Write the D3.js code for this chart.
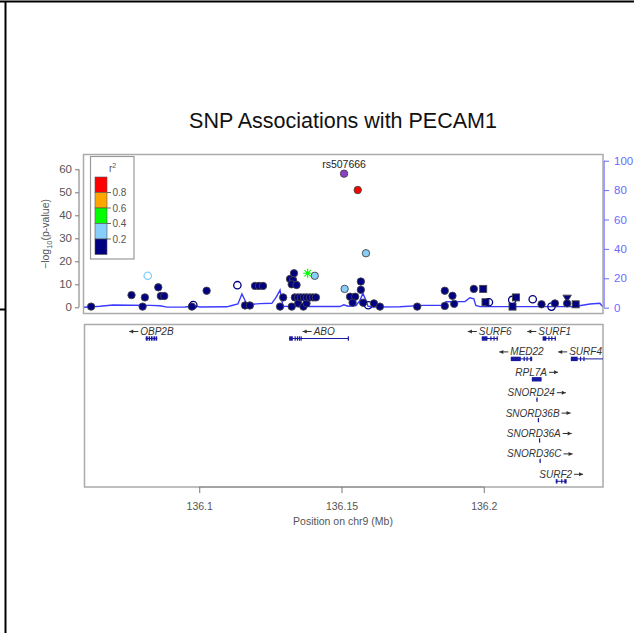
<!DOCTYPE html>
<html><head><meta charset="utf-8">
<script src="https://cdn.jsdelivr.net/npm/d3@7"></script>
<style>body{margin:0;background:#fff}svg{display:block;font-family:"Liberation Sans",Arial,sans-serif}</style>
</head><body>
<script>
// ---- data ----
const snpPos = [136.0620,136.0819,136.0762,136.0801,136.0809,136.0856,136.0865,136.0877,136.0974,136.0979,
136.1026,136.1134,136.1161,136.1178,136.1196,136.1210,136.1224,136.1284,136.1295,136.1319,
136.1325,136.1330,136.1325,136.1333,136.1342,136.1336,136.1347,136.1348,136.1357,136.1366,
136.1368,136.1377,136.1378,136.1389,136.1400,136.1410,136.1381,136.1406,136.1509,136.1557,
136.1586,136.1511,136.1568,136.1568,136.1530,136.1548,136.1539,136.1576,136.1594,136.1614,
136.1635,136.1766,136.1863,136.1890,136.1863,136.1896,136.1965,136.1998,136.2006,136.2018,
136.2101,136.2100,136.2113,136.2172,136.2203,136.2238,136.2250,136.2293,136.2293,136.2323];
const snpLogP = [0.3,13.7,5.3,0.3,4.3,8.7,4.9,4.9,0.3,1.0,
7.2,9.6,0.8,0.8,9.3,9.3,9.3,0.3,4.3,12.3,
0.3,11.8,10.0,14.8,9.7,4.3,4.3,1.7,4.3,0.3,
4.3,1.7,4.3,4.3,4.3,4.3,14.8,13.7,58.1,51.0,
23.5,8.0,11.2,7.6,4.6,4.6,2.0,2.0,0.9,1.7,
0.3,0.3,7.2,5.0,0.6,1.5,8.0,8.0,2.2,2.2,
0.3,3.2,4.3,3.5,1.3,0.3,1.7,3.9,1.7,1.3];
const snpR2 = [0.1,0.3,0.1,0.1,0.1,0.1,0.1,0.1,0.1,0.1,
0.1,0.1,0.1,0.1,0.1,0.1,0.1,0.1,0.1,0.1,
0.1,0.1,0.1,0.1,0.1,0.1,0.1,0.1,0.1,0.1,
0.1,0.1,0.1,0.1,0.1,0.1,0.5,0.3,1.0,0.9,
0.3,0.3,0.1,0.1,0.1,0.1,0.1,0.1,0.1,0.1,
0.1,0.1,0.1,0.1,0.1,0.1,0.1,0.1,0.1,0.1,
0.1,0.1,0.1,0.1,0.1,0.1,0.1,0.1,0.1,0.1];
const snpShape = ["c","o","c","c","c","c","c","c","c","o",
"c","o","c","c","c","c","c","c","c","c",
"c","c","c","c","c","c","c","c","c","c",
"c","c","c","c","c","c","x","c","c","c",
"c","c","c","c","c","c","c","c","o","c",
"c","c","c","c","c","c","c","s","s","o",
"s","o","s","o","c","o","c","t","c","s"];
const indexSnp = "rs507666";
const indexSnpPos = 136.1509;

const recombPos = [136.0595,136.0651,136.0697,136.0827,136.0862,136.0887,136.0950,136.0985,136.1002,136.1097,
136.1115,136.1136,136.1150,136.1168,136.1213,136.1255,136.1270,136.1284,136.1294,136.1354,
136.1494,136.1508,136.1523,136.1551,136.1565,136.1575,136.1586,136.1593,136.1607,136.1705,
136.1786,136.1856,136.1867,136.1934,136.1951,136.1965,136.1972,136.1986,136.2232,136.2320,
136.2373,136.2408,136.2419];
const recombRate = [0.3,1.0,1.8,1.6,1.3,0.4,0.5,1.2,0.5,0.6,
1.5,2.5,9.3,2.0,2.8,3.0,7.0,12.0,1.0,0.8,
0.8,2.0,1.0,1.5,5.0,9.8,5.0,1.0,0.5,0.6,
1.6,1.6,4.0,4.2,6.8,6.0,1.5,0.7,0.7,0.8,
2.5,3.0,0.5];

const geneNames = ["OBP2B","ABO","SURF6","SURF1","MED22","SURF4","RPL7A","SNORD24","SNORD36B","SNORD36A","SNORD36C","SURF2"];
const geneStart = [136.0812,136.1316,136.1993,136.2207,136.2095,136.2306,136.2169,136.2185,136.2190,136.2194,136.2196,136.2253];
const geneEnd = [136.0852,136.1524,136.2049,136.2253,136.2170,136.2440,136.2203,136.2187,136.2192,136.2196,136.2198,136.2291];
const geneStrand = ["-","-","-","-","-","-","+","+","+","+","+","+"];
const geneRow = [0,0,0,0,1,1,2,3,4,5,6,7];
const geneExons = [
 [[136.0812,136.0819],[136.0822,136.0827],[136.0830,136.0836],[136.0839,136.0846],[136.0848,136.0852]],
 [[136.1316,136.1329],[136.1335,136.1338],[136.1343,136.1345],[136.1350,136.1352],[136.1356,136.1359],[136.1522,136.1524]],
 [[136.1993,136.2013],[136.2023,136.2026],[136.2034,136.2037],[136.2045,136.2049]],
 [[136.2207,136.2220],[136.2227,136.2230],[136.2237,136.2240],[136.2249,136.2253]],
 [[136.2095,136.2130],[136.2140,136.2143],[136.2150,136.2153],[136.2163,136.2170]],
 [[136.2306,136.2330],[136.2338,136.2341],[136.2350,136.2353]],
 [[136.2169,136.2203]],
 [[136.2185,136.2187]],
 [[136.2190,136.2192]],
 [[136.2194,136.2196]],
 [[136.2196,136.2198]],
 [[136.2253,136.2259],[136.2272,136.2275],[136.2283,136.2291]]
];

const leftTicks = [0,10,20,30,40,50,60];
const rightTicks = [0,20,40,60,80,100];
const xTicks = [136.1,136.15,136.2];
const r2Breaks = [0.2,0.4,0.6,0.8];
const r2Colors = ["#000080","#87CEFA","#00FF00","#FFA500","#FF0000"];
const indexColor = "#8E3FC6";

// ---- layout ----
const W = 634, H = 633;
const svg = d3.select("body").append("svg").attr("width", W).attr("height", H);

// page borders
svg.append("line").attr("x1",0).attr("x2",W).attr("y1",1.5).attr("y2",1.5).attr("stroke","#000").attr("stroke-width",2);
svg.append("line").attr("x1",5.5).attr("x2",5.5).attr("y1",1).attr("y2",H).attr("stroke","#000").attr("stroke-width",2);
svg.append("line").attr("x1",0).attr("x2",6).attr("y1",309.5).attr("y2",309.5).attr("stroke","#000").attr("stroke-width",2);

const box = {l:83.5, r:603, t:154.5, b:313.5};
const gbox = {l:84.5, r:603, t:324.5, b:487};
const x = d3.scaleLinear().domain([136.0595,136.2419]).range([84,603]);
const yL = d3.scaleLinear().domain([0,60]).range([307.3,169.3]);
const yR = d3.scaleLinear().domain([0,100]).range([307.7,160.7]);
const color = d3.scaleThreshold().domain(r2Breaks).range(r2Colors);

svg.append("text").attr("x",343).attr("y",128).attr("text-anchor","middle")
  .attr("font-size",21.5).attr("fill","#111").text("SNP Associations with PECAM1");

const defs = svg.append("defs");
defs.append("clipPath").attr("id","clipTop").append("rect")
  .attr("x",box.l).attr("y",box.t).attr("width",box.r-box.l).attr("height",box.b-box.t);
defs.append("clipPath").attr("id","clipGene").append("rect")
  .attr("x",gbox.l).attr("y",gbox.t).attr("width",gbox.r-gbox.l).attr("height",gbox.b-gbox.t);

// left axis
const gL = svg.append("g").attr("transform","translate(79,0)")
  .call(d3.axisLeft(yL).tickValues(leftTicks).tickSize(4).tickPadding(3));
gL.select(".domain").attr("stroke","#777").attr("d",`M0,${yL(0)}V${yL(60)}`);
gL.selectAll(".tick line").attr("stroke","#777");
gL.selectAll("text").attr("fill","#555").attr("font-size",11.5).attr("font-family","Liberation Sans, Arial, sans-serif");

// right axis
const gR = svg.append("g").attr("transform","translate(604,0)")
  .call(d3.axisRight(yR).tickValues(rightTicks).tickSize(5).tickPadding(5));
gR.select(".domain").attr("stroke","#6b6bff").attr("stroke-width",1.3).attr("d",`M0,${yR(0)}V${yR(100)}`);
gR.selectAll(".tick line").attr("stroke","#6b6bff");
gR.selectAll("text").attr("fill","#6b6bff").attr("font-size",11.5).attr("font-family","Liberation Sans, Arial, sans-serif");

// y label
const yl = svg.append("text").attr("transform","translate(49,234) rotate(-90)")
  .attr("text-anchor","middle").attr("font-size",10.5).attr("fill","#555");
yl.append("tspan").text("\u2212log");
yl.append("tspan").attr("font-size",7.5).attr("dy",3).text("10");
yl.append("tspan").attr("dy",-3).text("(p-value)");

// recomb line
const topG = svg.append("g").attr("clip-path","url(#clipTop)");
const recData = recombPos.map((p,i)=>[p,recombRate[i]]);
topG.append("path").datum(recData)
  .attr("d", d3.line().x(d=>x(d[0])).y(d=>yR(d[1])))
  .attr("fill","none").attr("stroke","#3b3bff").attr("stroke-width",1.4);

// SNPs
const snps = snpPos.map((p,i)=>({p, v:snpLogP[i], r2:snpR2[i], s:snpShape[i], idx: Math.abs(p-indexSnpPos)<1e-6}));
const order = snps.slice().sort((a,b)=>a.r2-b.r2);
order.forEach(d=>{
  const cx = x(d.p), cy = yL(d.v);
  const fill = d.idx ? indexColor : color(d.r2);
  if (d.s==="c") {
    topG.append("circle").attr("cx",cx).attr("cy",cy).attr("r",3.7)
      .attr("fill",fill).attr("stroke","#444").attr("stroke-width",0.9);
  } else if (d.s==="o") {
    topG.append("circle").attr("cx",cx).attr("cy",cy).attr("r",3.7)
      .attr("fill","none").attr("stroke",fill).attr("stroke-width",1.3);
  } else if (d.s==="s") {
    topG.append("rect").attr("x",cx-3.5).attr("y",cy-3.5).attr("width",7).attr("height",7)
      .attr("fill",fill).attr("stroke","#444").attr("stroke-width",0.9);
  } else if (d.s==="t") {
    topG.append("path").attr("d",`M${cx-4.2},${cy-3.2}L${cx+4.2},${cy-3.2}L${cx},${cy+3.8}Z`)
      .attr("fill",fill).attr("stroke","#444").attr("stroke-width",0.9);
  } else if (d.s==="x") {
    const r=4.5, a=r*0.707;
    topG.append("path").attr("d",`M${cx-r},${cy}H${cx+r}M${cx},${cy-r}V${cy+r}M${cx-a},${cy-a}L${cx+a},${cy+a}M${cx-a},${cy+a}L${cx+a},${cy-a}`)
      .attr("stroke",fill).attr("stroke-width",1.2).attr("fill","none");
  }
});
svg.append("text").attr("x",x(indexSnpPos)).attr("y",167.5).attr("text-anchor","middle")
  .attr("font-size",10.5).attr("fill","#222").text(indexSnp);

// top box
svg.append("rect").attr("x",box.l).attr("y",box.t).attr("width",box.r-box.l).attr("height",box.b-box.t)
  .attr("fill","none").attr("stroke","#aaa").attr("stroke-width",1.5);

// legend
const lg = svg.append("g");
lg.append("rect").attr("x",90.5).attr("y",156.5).attr("width",43.5).attr("height",102.5)
  .attr("fill","#fff").attr("stroke","#999").attr("stroke-width",1.2);
const lt = lg.append("text").attr("x",109).attr("y",172).attr("font-size",10).attr("fill","#555");
lt.append("tspan").text("r");
lt.append("tspan").attr("font-size",7).attr("dy",-4).text("2");
const legTop = 177, legBot = 254.5, legStep = (legBot-legTop)/5;
r2Colors.slice().reverse().forEach((c,i)=>{
  lg.append("rect").attr("x",95).attr("y",legTop+i*legStep).attr("width",12).attr("height",legStep)
    .attr("fill",c).attr("stroke","#555").attr("stroke-width",0.6);
});
r2Breaks.slice().reverse().forEach((b,i)=>{
  const yy = legTop+(i+1)*legStep;
  lg.append("line").attr("x1",107).attr("x2",111).attr("y1",yy).attr("y2",yy).attr("stroke","#666");
  lg.append("text").attr("x",112.5).attr("y",yy+3.5).attr("font-size",10).attr("fill","#555").text(b.toFixed(1));
});

// genes panel
svg.append("rect").attr("x",gbox.l).attr("y",gbox.t).attr("width",gbox.r-gbox.l).attr("height",gbox.b-gbox.t)
  .attr("fill","none").attr("stroke","#aaa").attr("stroke-width",1.5);
const geneG = svg.append("g").attr("clip-path","url(#clipGene)");
const labG = svg.append("g");
const rowY = r => 338.5 + r*20.4;
geneNames.forEach((name,i)=>{
  const yy = rowY(geneRow[i]);
  const x0 = x(geneStart[i]), x1 = x(geneEnd[i]);
  geneG.append("line").attr("x1",x0).attr("x2",Math.max(x1,x0+0.8)).attr("y1",yy).attr("y2",yy)
    .attr("stroke","#1a1aa0").attr("stroke-width",1);
  geneExons[i].forEach(e=>{
    geneG.append("rect").attr("x",x(e[0])).attr("y",yy-2.2).attr("width",Math.max(1.2,x(e[1])-x(e[0])))
      .attr("height",4.4).attr("fill","#1a1aa0");
  });
  const t = labG.append("text").attr("y",yy-3.5).attr("font-size",10).attr("font-style","italic")
    .attr("fill","#333").text(name);
  const tw = t.node().getComputedTextLength();
  const arrowLen = 9, gap = 2;
  const total = tw + arrowLen + gap;
  const visL = Math.max(x0, gbox.l), visR = Math.min(x1, gbox.r);
  let cx = (visL+visR)/2;
  let left = cx - total/2;
  if (left + total > gbox.r - 1) left = gbox.r - 1 - total;
  const ay = yy - 7;
  if (geneStrand[i]==="-") {
    t.attr("x", left + arrowLen + gap);
    labG.append("line").attr("x1",left).attr("x2",left+arrowLen).attr("y1",ay).attr("y2",ay).attr("stroke","#333").attr("stroke-width",1);
    labG.append("path").attr("d",`M${left},${ay}L${left+4},${ay-2}L${left+4},${ay+2}Z`).attr("fill","#333");
  } else {
    t.attr("x", left);
    const s = left + tw + gap;
    labG.append("line").attr("x1",s).attr("x2",s+arrowLen).attr("y1",ay).attr("y2",ay).attr("stroke","#333").attr("stroke-width",1);
    labG.append("path").attr("d",`M${s+arrowLen},${ay}L${s+arrowLen-4},${ay-2}L${s+arrowLen-4},${ay+2}Z`).attr("fill","#333");
  }
});

// x axis
const gX = svg.append("g").attr("transform",`translate(0,${gbox.b})`)
  .call(d3.axisBottom(x).tickValues(xTicks).tickSize(6).tickPadding(10).tickFormat(d=>String(+d.toFixed(2))));
gX.select(".domain").attr("stroke","#888").attr("d",`M${x(xTicks[0])},0H${x(xTicks[2])}`);
gX.selectAll(".tick line").attr("stroke","#777");
gX.selectAll("text").attr("fill","#555").attr("font-size",10.5).attr("font-family","Liberation Sans, Arial, sans-serif");
svg.append("text").attr("x",343).attr("y",525).attr("text-anchor","middle").attr("font-size",10.5)
  .attr("fill","#555").text("Position on chr9 (Mb)");
</script>
</body></html>
